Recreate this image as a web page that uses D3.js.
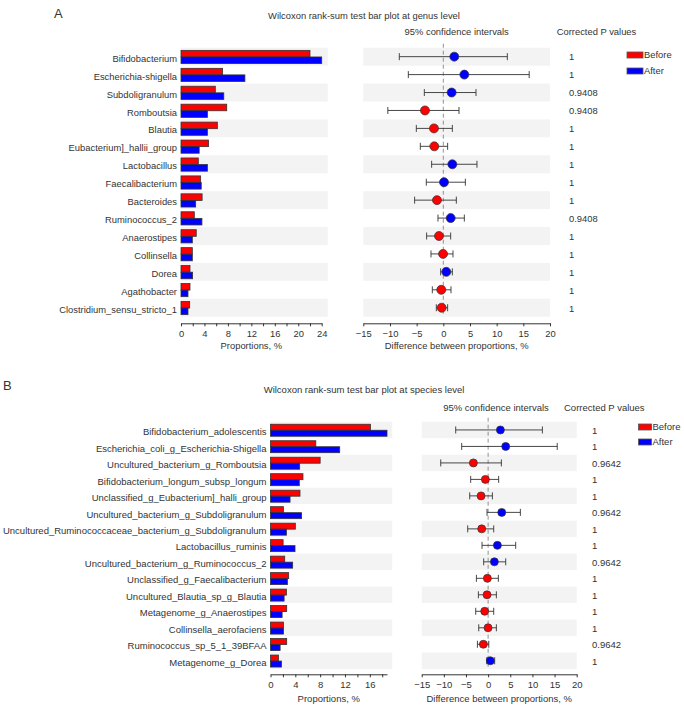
<!DOCTYPE html>
<html><head><meta charset="utf-8">
<script src="https://cdn.jsdelivr.net/npm/d3@7"></script>
<style>
body{margin:0;background:#fff;}
text{font-family:"Liberation Sans",Arial,sans-serif;fill:#333;}
</style></head><body>
<svg id="c" width="684" height="706"></svg>
<script>
// ---------- Panel A: genus level ----------
const genusNames = ["Bifidobacterium","Escherichia-shigella","Subdoligranulum","Romboutsia","Blautia","Eubacterium]_hallii_group","Lactobacillus","Faecalibacterium","Bacteroides","Ruminococcus_2","Anaerostipes","Collinsella","Dorea","Agathobacter","Clostridium_sensu_stricto_1"];
const genusBefore = [22.0,7.1,5.85,7.8,6.2,4.7,2.95,3.35,3.6,2.27,2.6,1.93,1.53,1.53,1.48];
const genusAfter  = [24.0,10.9,7.3,4.5,4.5,3.1,4.5,3.45,2.5,3.57,1.93,1.93,1.98,1.19,1.19];
const genusDiff   = [2.06,3.94,1.56,-3.44,-1.75,-1.69,1.69,0.13,-1.19,1.38,-0.81,-0.05,0.56,-0.38,-0.31];
const genusLow    = [-8.25,-6.56,-3.56,-10.4,-5.06,-4.31,-2.19,-3.19,-5.38,-1.0,-3.13,-2.31,-0.5,-2.06,-1.31];
const genusHigh   = [12.0,16.1,6.13,2.94,1.69,0.81,6.31,4.13,2.44,3.94,1.38,1.81,1.69,1.44,0.81];
const genusP      = ["1","1","0.9408","0.9408","1","1","1","1","1","0.9408","1","1","1","1","1"];

// ---------- Panel B: species level ----------
const speciesNames = ["Bifidobacterium_adolescentis","Escherichia_coli_g_Escherichia-Shigella","Uncultured_bacterium_g_Romboutsia","Bifidobacterium_longum_subsp_longum","Unclassified_g_Eubacterium]_halli_group","Uncultured_bacterium_g_Subdoligranulum","Uncultured_Ruminococcaceae_bacterium_g_Subdoligranulum","Lactobacillus_ruminis","Uncultured_bacterium_g_Ruminococcus_2","Unclassified_g_Faecalibacterium","Uncultured_Blautia_sp_g_Blautia","Metagenome_g_Anaerostipes","Collinsella_aerofaciens","Ruminococcus_sp_5_1_39BFAA","Metagenome_g_Dorea"];
const speciesBefore = [16.1,7.3,8.0,5.23,4.75,2.08,4.0,2.03,2.29,2.93,2.56,2.61,2.08,2.61,1.28];
const speciesAfter  = [18.77,11.15,4.7,4.64,3.15,5.01,2.56,3.95,3.57,2.72,2.19,1.87,2.08,1.55,1.76];
const speciesDiff   = [2.77,3.97,-3.33,-0.62,-1.6,3.07,-1.45,2.09,1.41,-0.17,-0.25,-0.77,-0.02,-1.08,0.5];
const speciesLow    = [-7.32,-5.97,-10.7,-3.94,-4.16,-0.25,-4.61,-1.38,-1.0,-2.65,-2.2,-2.8,-2.12,-2.42,-0.32];
const speciesHigh   = [12.25,15.6,2.99,2.38,0.96,7.28,1.26,6.22,3.97,2.31,1.86,1.26,1.86,0.15,1.48];
const speciesP      = ["1","1","0.9642","1","1","0.9642","1","1","0.9642","1","1","1","1","0.9642","1"];

const groups = ["Before","After"];
const groupColors = ["#ff0000","#0000ff"];
const barTicksA = d3.range(0,25,2);
const barTicksB = d3.range(0,19,2);
const ciTicks = d3.range(-15,21,5);

const svg = d3.select("#c");

function panel(o){
  const g = svg.append("g");
  const y = d3.scaleBand().domain(o.names).range([o.top,o.bottom]).padding(0);
  const xb = d3.scaleLinear().domain([0,d3.max(o.after.concat(o.before))]).range([o.barX0,o.barX1]);
  const xc = d3.scaleLinear().domain([-15,20]).range([o.ciX0,o.ciX1]);
  const bw = y.bandwidth();
  // background stripes
  o.names.forEach((n,i)=>{
    if(i%2===0){
      g.append("rect").attr("x",o.barX0).attr("y",y(n)).attr("width",o.stripeEnd-o.barX0).attr("height",bw).attr("fill","#f3f3f3");
      g.append("rect").attr("x",o.ciX0).attr("y",y(n)).attr("width",o.ciX1-o.ciX0).attr("height",bw).attr("fill","#f3f3f3");
    }
  });
  // labels
  g.selectAll(".lab").data(o.names).join("text")
    .attr("x",o.barX0-4).attr("y",d=>y(d)+bw/2+1.8).attr("dy","0.35em")
    .attr("text-anchor","end").attr("font-size",o.fs).text(d=>d);
  // bars
  const bh = o.barH;
  [o.before,o.after].forEach((vals,k)=>{
    g.selectAll(".b"+k).data(vals).join("rect")
      .attr("x",xb(0)).attr("y",(d,i)=>y(o.names[i])+bw/2+0.3-bh+k*bh)
      .attr("width",d=>xb(d)-xb(0)).attr("height",bh)
      .attr("fill",groupColors[k]).attr("stroke","#333").attr("stroke-width",0.8);
  });
  // bar axis
  const ax = g.append("g").attr("transform",`translate(0,${o.axisY})`)
    .call(d3.axisBottom(xb).tickValues(o.barTicks).tickSize(3).tickSizeOuter(0).tickFormat(d=>d%4===0?d:""));
  ax.select(".domain").attr("stroke","#333");
  ax.selectAll(".tick line").attr("stroke","#333");
  ax.selectAll("text").attr("font-size",o.fs).attr("fill","#333").attr("font-family","Liberation Sans, Arial").attr("dy","0.85em");
  g.append("text").attr("x",(o.barX0+o.barX1)/2).attr("y",o.axisY+o.titleOff).attr("text-anchor","middle").attr("font-size",o.fs).text("Proportions, %");
  // CI axis
  const ac = g.append("g").attr("transform",`translate(0,${o.axisY})`)
    .call(d3.axisBottom(xc).tickValues(ciTicks).tickSize(3).tickSizeOuter(0));
  ac.select(".domain").attr("stroke","#333");
  ac.selectAll(".tick line").attr("stroke","#333");
  ac.selectAll("text").attr("font-size",o.fs).attr("fill","#333").attr("font-family","Liberation Sans, Arial").attr("dy","0.85em");
  g.append("text").attr("x",(o.ciX0+o.ciX1)/2).attr("y",o.axisY+o.titleOff).attr("text-anchor","middle").attr("font-size",o.fs).text("Difference between proportions, %");
  // zero dashed line
  g.append("line").attr("x1",xc(0)).attr("x2",xc(0)).attr("y1",o.top-4).attr("y2",o.bottom)
    .attr("stroke","#777").attr("stroke-dasharray","4,3").attr("stroke-width",0.8);
  // error bars
  const cap = o.cap;
  o.names.forEach((n,i)=>{
    const cy = y(n)+bw/2;
    g.append("line").attr("x1",xc(o.low[i])).attr("x2",xc(o.high[i])).attr("y1",cy).attr("y2",cy).attr("stroke","#333").attr("stroke-width",0.9);
    [o.low[i],o.high[i]].forEach(v=>g.append("line").attr("x1",xc(v)).attr("x2",xc(v)).attr("y1",cy-cap).attr("y2",cy+cap).attr("stroke","#333").attr("stroke-width",0.9));
    g.append("circle").attr("cx",xc(o.diff[i])).attr("cy",cy).attr("r",o.r)
      .attr("fill",o.diff[i]>0?groupColors[1]:groupColors[0]).attr("stroke","#333").attr("stroke-width",0.7);
  });
  // p values
  g.selectAll(".p").data(o.p).join("text").attr("x",o.pX).attr("y",(d,i)=>y(o.names[i])+bw/2+0.5).attr("dy","0.35em")
    .attr("font-size",o.fs).text(d=>d);
  // headers
  g.append("text").attr("x",364).attr("y",o.titleY).attr("text-anchor","middle").attr("font-size",o.fs).text(o.title);
  g.append("text").attr("x",o.ciHeadX).attr("y",o.headY).attr("text-anchor","middle").attr("font-size",o.fs).text("95% confidence intervals");
  g.append("text").attr("x",o.pHeadX).attr("y",o.headY).attr("font-size",o.fs).text("Corrected P values");
  // panel letter
  g.append("text").attr("x",o.letterX).attr("y",o.letterY).attr("font-size",13).attr("fill","#000").text(o.letter);
  // legend
  groups.forEach((gname,k)=>{
    g.append("rect").attr("x",o.legX).attr("y",o.legY+k*o.legStep).attr("width",o.legW).attr("height",6)
      .attr("fill",groupColors[k]).attr("stroke","#555").attr("stroke-width",0.8);
    g.append("text").attr("x",o.legX+o.legW+1).attr("y",o.legY+k*o.legStep+3).attr("dy","0.35em").attr("font-size",o.fs).text(gname);
  });
}

panel({names:genusNames,before:genusBefore,after:genusAfter,diff:genusDiff,low:genusLow,high:genusHigh,p:genusP,
  top:47.7,bottom:316.7,barX0:181,barX1:321.7,stripeEnd:327.7,ciX0:363.3,ciX1:550,axisY:323.3,barTicks:barTicksA,titleOff:25.5,
  fs:9.4,barH:6.6,cap:3.5,r:4.5,pX:569,title:"Wilcoxon rank-sum test bar plot at genus level",titleY:18.5,
  ciHeadX:456.7,pHeadX:556.7,headY:35.3,letter:"A",letterX:54,letterY:18,legX:627,legY:52,legStep:16,legW:16});

panel({names:speciesNames,before:speciesBefore,after:speciesAfter,diff:speciesDiff,low:speciesLow,high:speciesHigh,p:speciesP,
  top:421.7,bottom:669,barX0:270.5,barX1:387,stripeEnd:392.3,ciX0:421.7,ciX1:576.7,axisY:674.3,barTicks:barTicksB,titleOff:28,
  fs:9.5,barH:6,cap:3.5,r:4,pX:592,title:"Wilcoxon rank-sum test bar plot at species level",titleY:392.5,
  ciHeadX:496,pHeadX:564,headY:411,letter:"B",letterX:3,letterY:390,legX:638.5,legY:424,legStep:15,legW:13});
</script>
</body></html>
